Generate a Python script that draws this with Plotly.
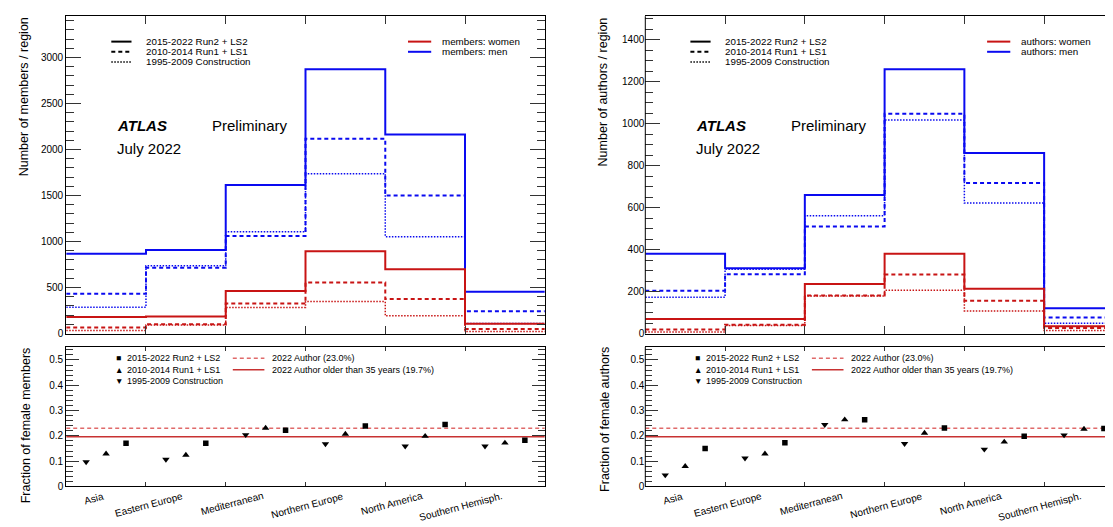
import plotly.graph_objects as go

W, H = 1113, 527

regions = ["Asia", "Eastern Europe", "Mediterranean", "Northern Europe",
           "North America", "Southern Hemisph."]

# ---- members per region ----
members_men_run2 = [866, 909, 1615, 2871, 2163, 455]
members_men_run1 = [433, 716, 1060, 2116, 1500, 243]
members_men_constr = [286, 738, 1106, 1736, 1053, 110]
members_women_run2 = [179, 186, 462, 895, 698, 107]
members_women_run1 = [66, 100, 326, 555, 376, 50]
members_women_constr = [33, 93, 283, 347, 193, 21]

# ---- authors per region ----
authors_men_run2 = [380, 311, 661, 1260, 861, 121]
authors_men_run1 = [204, 283, 511, 1048, 718, 77]
authors_men_constr = [173, 306, 562, 1018, 622, 49]
authors_women_run2 = [69, 69, 236, 380, 214, 35]
authors_women_run1 = [19, 42, 182, 281, 156, 27]
authors_women_constr = [8, 39, 179, 207, 108, 14]

# ---- female fractions ----
frac_members_run2 = [0.171, 0.171, 0.222, 0.239, 0.245, 0.183]
frac_members_run1 = [0.129, 0.124, 0.231, 0.207, 0.199, 0.172]
frac_members_constr = [0.097, 0.107, 0.204, 0.168, 0.159, 0.159]
frac_authors_run2 = [0.150, 0.173, 0.264, 0.231, 0.199, 0.229]
frac_authors_run1 = [0.080, 0.129, 0.264, 0.211, 0.176, 0.227]
frac_authors_constr = [0.045, 0.112, 0.244, 0.169, 0.147, 0.203]

author_frac_2022 = 0.230
author_frac_older35 = 0.197

period_labels = ["2015-2022 Run2 + LS2", "2010-2014 Run1 + LS1", "1995-2009 Construction"]
ref_labels = ["2022 Author (23.0%)", "2022 Author older than 35 years (19.7%)"]

BLUE = "#0a0af0"
RED = "#c81414"
FONT = "Liberation Sans, Arial, Helvetica, sans-serif"
DASH = "4px,3px"
DOT = "1.5px,1.5px"

n = len(regions)
edges = list(range(n + 1))


def px(x):
    return x / W


def py(y):
    return 1 - y / H


fig = go.Figure()


def add_hist(vals, color, dash, width, xa, ya):
    fig.add_trace(go.Scatter(
        x=edges, y=list(vals) + [vals[-1]], mode="lines", line_shape="hv",
        line=dict(color=color, width=width, dash=dash),
        xaxis=xa, yaxis=ya, showlegend=False, hoverinfo="skip", cliponaxis=True))


def add_frac(r2, r1, c0, xa, ya):
    specs = [(c0, 0.25, "triangle-down", 6.5), (r1, 0.5, "triangle-up", 6.5), (r2, 0.75, "square", 5.5)]
    for vals, off, sym, sz in specs:
        fig.add_trace(go.Scatter(
            x=[i + off for i in range(n)], y=vals, mode="markers",
            marker=dict(symbol=sym, size=sz, color="black", line=dict(width=0)),
            xaxis=xa, yaxis=ya, showlegend=False, hoverinfo="skip"))


def add_refs(xa, ya):
    fig.add_trace(go.Scatter(x=[edges[0], edges[-1]], y=[author_frac_2022] * 2, mode="lines",
                             line=dict(color="#e06a6a", width=1.5, dash=DASH),
                             xaxis=xa, yaxis=ya, showlegend=False, hoverinfo="skip"))
    fig.add_trace(go.Scatter(x=[edges[0], edges[-1]], y=[author_frac_older35] * 2, mode="lines",
                             line=dict(color="#c83232", width=1.5),
                             xaxis=xa, yaxis=ya, showlegend=False, hoverinfo="skip"))


# left (members)
add_refs("x2", "y2")
for vals, col, dash, wd in [
    (members_men_constr, BLUE, DOT, 1.5), (members_men_run1, BLUE, DASH, 2), (members_men_run2, BLUE, "solid", 2),
    (members_women_constr, RED, DOT, 1.5), (members_women_run1, RED, DASH, 2), (members_women_run2, RED, "solid", 2)]:
    add_hist(vals, col, dash, wd, "x", "y")
add_frac(frac_members_run2, frac_members_run1, frac_members_constr, "x2", "y2")

# right (authors)
add_refs("x4", "y4")
for vals, col, dash, wd in [
    (authors_men_constr, BLUE, DOT, 1.5), (authors_men_run1, BLUE, DASH, 2), (authors_men_run2, BLUE, "solid", 2),
    (authors_women_constr, RED, DOT, 1.5), (authors_women_run1, RED, DASH, 2), (authors_women_run2, RED, "solid", 2)]:
    add_hist(vals, col, dash, wd, "x3", "y3")
add_frac(frac_authors_run2, frac_authors_run1, frac_authors_constr, "x4", "y4")

# ---- geometry (pixels) ----
LX0, LX1 = 58.2, 536.8
SHIFT = 579.1
RX0 = LX0 + SHIFT
BINW = (LX1 - LX0) / n
R_RANGE = (W - RX0) / BINW
TOP_Y0, TOP_Y1 = 8.3, 329.3
BOT_Y0, BOT_Y1 = 342.7, 484.0

common = dict(linecolor="black", linewidth=1, mirror="ticks",
              tickcolor="#333", tickwidth=1, ticks="inside", showgrid=False, zeroline=False,
              tickfont=dict(family=FONT, size=10, color="black"))

top_dom = [py(TOP_Y1), py(TOP_Y0)]
bot_dom = [py(BOT_Y1), py(BOT_Y0)]

fig.update_layout(
    width=W, height=H, autosize=False,
    margin=dict(l=0, r=0, t=0, b=0),
    paper_bgcolor="white", plot_bgcolor="white",
    font=dict(family=FONT, color="black"),
    xaxis=dict(domain=[px(LX0), px(LX1)], range=[0, n], tickvals=edges[1:-1], ticklen=8,
               showticklabels=False, anchor="y", showline=True, **common),
    yaxis=dict(domain=top_dom, range=[0, 3448], tick0=0, dtick=500, ticklen=15, showline=True,
               minor=dict(dtick=100, ticklen=8, ticks="inside", tickcolor="#333"), anchor="x", **common),
    xaxis2=dict(domain=[px(LX0), px(LX1)], range=[0, n], tickvals=edges[1:-1], ticklen=4,
                showticklabels=False, anchor="y2", showline=True, **common),
    yaxis2=dict(domain=bot_dom, range=[0, 0.552], tick0=0, dtick=0.1, ticklen=13, showline=True,
                minor=dict(dtick=0.02, ticklen=6.5, ticks="inside", tickcolor="#333"), anchor="x2", **common),
    xaxis3=dict(domain=[px(RX0), 1.0], range=[0, R_RANGE], tickvals=edges[1:-1], ticklen=8,
                showticklabels=False, anchor="y3", showline=True, **common),
    yaxis3=dict(domain=top_dom, range=[0, 1513], tick0=0, dtick=200, ticklen=15, showline=False,
                minor=dict(dtick=50, ticklen=8, ticks="inside", tickcolor="#333"), anchor="x3", **common),
    xaxis4=dict(domain=[px(RX0), 1.0], range=[0, R_RANGE], tickvals=edges[1:-1], ticklen=4,
                showticklabels=False, anchor="y4", showline=True, **common),
    yaxis4=dict(domain=bot_dom, range=[0, 0.552], tick0=0, dtick=0.1, ticklen=13, showline=False,
                minor=dict(dtick=0.02, ticklen=6.5, ticks="inside", tickcolor="#333"), anchor="x4", **common),
)

annotations = []
shapes = []

# left frame edge of the right-hand panels (their right frame edge lies just outside the picture)
for xa, ya in [("x3", "y3"), ("x4", "y4")]:
    shapes.append(dict(type="line", xref=xa + " domain", yref=ya + " domain", x0=0, x1=0, y0=0, y1=1,
                       line=dict(color="black", width=1)))


def txt(text, x, y, size, xanchor="left", yanchor="middle", angle=0, xref="paper", yref="paper"):
    annotations.append(dict(text=text, x=x, y=y, xref=xref, yref=yref, xanchor=xanchor, yanchor=yanchor,
                            textangle=angle, showarrow=False, font=dict(family=FONT, size=size, color="black"),
                            borderpad=0))


def hline(x0, x1, y, color, dash, width):
    shapes.append(dict(type="line", xref="paper", yref="paper", x0=px(x0), x1=px(x1), y0=py(y), y1=py(y),
                       line=dict(color=color, dash=dash, width=width)))


panels = [
    (0.0, "members", "Number of members / region", "Fraction of female members", "x2"),
    (SHIFT, "authors", "Number of authors / region", "Fraction of female authors", "x4"),
]
for dx, word, ytitle_top, ytitle_bot, xb in panels:
    txt(ytitle_top, px(15.6 + dx), py(TOP_Y0), 12.5, xanchor="center", yanchor="top", angle=-90)
    txt(ytitle_bot, px(18.0 + dx), py(BOT_Y0 - 0.5), 12.5, xanchor="center", yanchor="top", angle=-90)
    txt("<b><i>ATLAS</i></b>", px(108.3 + dx), py(119.3), 15)
    txt("Preliminary", px(203.3 + dx), py(119.3), 15)
    txt("July 2022", px(108.3 + dx), py(141.7), 15)
    for k, (lab, dsh, wd) in enumerate(zip(period_labels, ["solid", DASH, DOT], [2, 2, 1.5])):
        yy = 34.0 + k * 10.3
        hline(103.3 + dx, 123.5 + dx, yy, "black", dsh, wd)
        txt(lab, px(136.7 + dx), py(yy), 9.8)
    for k, (lab, col) in enumerate(zip([word + ": women", word + ": men"], [RED, BLUE])):
        yy = 34.0 + k * 10.3
        hline(400.0 + dx, 423.2 + dx, yy, col, "solid", 2)
        txt(lab, px(433.2 + dx), py(yy), 9.8)
    for k, (lab, sym) in enumerate(zip(period_labels, ["\u25a0", "\u25b2", "\u25bc"])):
        yy = 354.3 + k * 11.5
        txt(sym, px(110.5 + dx), py(yy), 8.5, xanchor="center")
        txt(lab, px(117.5 + dx), py(yy), 9)
    for k, (lab, col, dsh) in enumerate(zip(ref_labels, ["#e06a6a", "#c83232"], [DASH, "solid"])):
        yy = 354.3 + k * 11.5
        hline(224.8 + dx, 256.4 + dx, yy, col, dsh, 1.5)
        txt(lab, px(263.2 + dx), py(yy), 9)
    for i, reg in enumerate(regions):
        txt(reg, i + 0.5, py(486.5), 10, xanchor="right", yanchor="top", angle=-15, xref=xb)

fig.update_layout(annotations=annotations, shapes=shapes)
fig.write_html("out.html")
